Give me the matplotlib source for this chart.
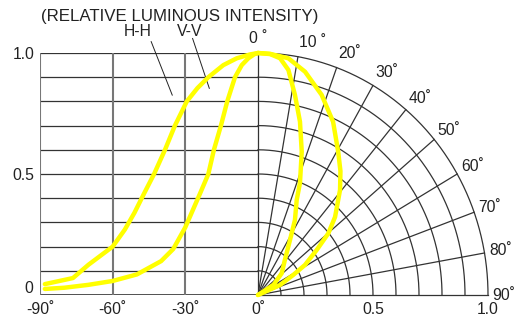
import matplotlib
matplotlib.use('Agg')
import matplotlib.pyplot as plt
import numpy as np

# left half: relative intensity vs angle (deg)
hh_left_ang = [-88, -76.4, -70, -60, -55, -51, -47, -42.9, -38.4, -34.3, -29.4, -25, -20.5, -14.3, -8.8, -3.3, 0]
hh_left_val = [0.045, 0.07, 0.125, 0.2, 0.27, 0.34, 0.42, 0.5, 0.6, 0.7, 0.8, 0.855, 0.9, 0.95, 0.978, 0.994, 1.0]
vv_left_ang = [-88, -80, -70, -60, -50, -40, -35, -30, -23.9, -20.5, -18.2, -15.3, -12.7, -9.5, -6.7, -4, -1.5, 0]
vv_left_val = [0.025, 0.03, 0.042, 0.058, 0.085, 0.14, 0.19, 0.28, 0.42, 0.5, 0.6, 0.7, 0.8, 0.9, 0.95, 0.978, 0.995, 1.0]

# right half: polar pattern (angle from axis, deg / relative intensity)
hh_right_ang = [0, 3, 7.7, 12.5, 18.5, 24.5, 30.5, 35, 39.4, 46.1, 50.2, 53.9, 58.7, 61.6, 66.7, 70]
hh_right_val = [1.0, 0.998, 0.987, 0.945, 0.872, 0.787, 0.687, 0.625, 0.562, 0.465, 0.398, 0.316, 0.239, 0.174, 0.104, 0.0]
vv_right_ang = [0, 3, 5.6, 8.1, 11.0, 14.3, 17.8, 21.5, 23.2, 27.4, 31.5, 38.9, 48.9, 58, 62]
vv_right_val = [1.0, 0.997, 0.983, 0.939, 0.842, 0.739, 0.622, 0.498, 0.427, 0.349, 0.266, 0.186, 0.137, 0.08, 0.0]

x_ticks = [-90, -60, -30, 0]
x_ticklabels = ['-90˚', '-60˚', '-30˚', '0˚']
y_ticks = [0.5, 1.0]
y_ticklabels = ['0.5', '1.0']
r_ticks = [0.5, 1.0]
r_ticklabels = ['0.5', '1.0']
polar_angles = list(range(0, 100, 10))
polar_labels = ['0 ˚', '10 ˚', '20˚', '30˚', '40˚', '50˚', '60˚', '70˚', '80˚', '90˚']

plt.rcParams['font.family'] = ['Liberation Sans', 'DejaVu Sans']
YEL = '#ffff00'
DARK = '#333333'
GRAY = '#777777'
TXT = '#222222'
FS = 11.3

W, H = 518, 318
fig = plt.figure(figsize=(W / 100, H / 100), dpi=100)
axL = fig.add_axes([40 / W, 23 / H, 218 / W, 242 / H])
axR = fig.add_axes([258 / W, 23 / H, 230 / W, 242 / H])
curve_kw = dict(color=YEL, lw=3.2, zorder=3, clip_on=False,
                solid_joinstyle='round', solid_capstyle='round')

# ---- left rectangular part
axL.set_xlim(-90, 0)
axL.set_ylim(0, 1)
for s in axL.spines.values():
    s.set_visible(False)
for v in np.arange(0.1, 1.01, 0.1):
    axL.axhline(v, color=DARK, lw=0.9, zorder=1)
axL.axhline(0, color=DARK, lw=1.2, zorder=1)
for a in x_ticks[:-1]:
    axL.axvline(a, color=GRAY, lw=1.5, zorder=1)
axL.plot(hh_left_ang, hh_left_val, **curve_kw)
axL.plot(vv_left_ang, vv_left_val, **curve_kw)
axL.set_xticks(x_ticks)
axL.set_xticklabels(x_ticklabels, fontsize=FS, color=TXT)
axL.set_yticks(y_ticks)
axL.set_yticklabels(y_ticklabels, fontsize=FS, color=TXT)
axL.tick_params(axis='x', length=0, pad=5)
axL.tick_params(axis='y', length=0, pad=4)
# the "0" sits a little above the baseline in the original
axL.annotate('0', xy=(0, 0.025), xycoords=('axes fraction', 'data'), xytext=(-5, 0),
             textcoords='offset points', fontsize=FS, color=TXT, ha='right', va='center')

axL.text(-32.5, 1.149, '(RELATIVE LUMINOUS INTENSITY)', fontsize=12.2, color=TXT,
         ha='center', va='center', clip_on=False)
axL.text(-49.5, 1.087, 'H-H', fontsize=FS, color=TXT, ha='center', va='center', clip_on=False)
axL.text(-28.1, 1.087, 'V-V', fontsize=FS, color=TXT, ha='center', va='center', clip_on=False)
axL.plot([-44.1, -35.4], [1.047, 0.826], color=TXT, lw=0.7, clip_on=False)
axL.plot([-27.0, -20.1], [1.06, 0.854], color=TXT, lw=0.7, clip_on=False)

# ---- right polar part (drawn in cartesian to keep the stretched shape)
axR.set_xlim(0, 1)
axR.set_ylim(0, 1)
for s in axR.spines.values():
    s.set_visible(False)
t = np.radians(np.linspace(0, 90, 200))
for r in np.arange(0.1, 1.01, 0.1):
    axR.plot(r * np.sin(t), r * np.cos(t), color=DARK, lw=0.9, clip_on=False, zorder=1)
for a in polar_angles:
    ar = np.radians(a)
    axR.plot([0, np.sin(ar)], [0, np.cos(ar)], color=DARK, lw=0.9, clip_on=False, zorder=1)

for ang, val in [(hh_right_ang, hh_right_val), (vv_right_ang, vv_right_val)]:
    ar = np.radians(ang)
    val = np.array(val)
    axR.plot(val * np.sin(ar), val * np.cos(ar), **curve_kw)

for a, lab in zip(polar_angles, polar_labels):
    ar = np.radians(a)
    ha = 'center' if a == 0 else 'left'
    axR.text(1.02 * np.sin(ar), 1.06 * np.cos(ar), lab, fontsize=FS, color=TXT,
             ha=ha, va='center', clip_on=False)

axR.set_xticks(r_ticks)
axR.set_xticklabels(r_ticklabels, fontsize=FS, color=TXT)
axR.set_yticks([])
axR.tick_params(length=0, pad=5)

fig.savefig('out.png', dpi=100, facecolor='white')
